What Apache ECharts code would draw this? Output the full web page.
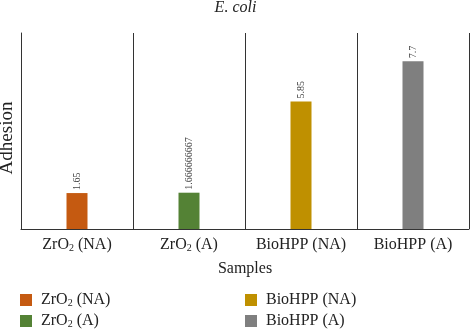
<!DOCTYPE html>
<html>
<head>
<meta charset="utf-8">
<script src="https://cdn.jsdelivr.net/npm/echarts@6/dist/echarts.min.js"></script>
<style>
  html, body { margin: 0; padding: 0; background: #fff; }
  #main { width: 471px; height: 333px; }
</style>
</head>
<body>
<div id="main"></div>
<script>
// samples on the x axis (rich text keeps the subscript 2)
var categories = ['ZrO2 (NA)', 'ZrO2 (A)', 'BioHPP (NA)', 'BioHPP (A)'];
var adhesion = [1.65, 1.666666667, 5.85, 7.7];
var labelText = ['1.65', '1.666666667', '5.85', '7.7'];
var colors = ['#C55A11', '#548235', '#BF9000', '#7F7F7F'];

var serif = '"Liberation Serif", "DejaVu Serif", serif';

function richName(name) {
  if (name.indexOf('ZrO2') === 0) {
    return '{t|ZrO}{s|2}{t|' + name.slice(4) + '}';
  }
  return '{t|' + name + '}';
}

function legendName(name) {
  if (name.indexOf('ZrO2') === 0) {
    return '{f|ZrO}{s|2}{t|' + name.slice(4) + '}';
  }
  return '{f|' + name + '}';
}

var rich = {
  t: { fontFamily: serif, fontSize: 16, color: '#222', height: 20, lineHeight: 20 },
  f: { fontFamily: serif, fontSize: 16, color: '#222', height: 20, lineHeight: 20, padding: [0, 0, 0, 4] },
  s: { fontFamily: serif, fontSize: 10, color: '#222', height: 13, lineHeight: 13, padding: [7, 0, 0, 0] }
};

var series = [];
for (var i = 0; i < categories.length; i++) {
  var d = [];
  for (var j = 0; j < categories.length; j++) {
    d.push(i === j ? adhesion[i] : '-');
  }
  series.push({
    name: categories[i],
    type: 'bar',
    stack: 'all',
    barWidth: 21,
    data: d,
    itemStyle: { color: colors[i] },
    label: {
      show: true,
      position: 'top',
      rotate: 90,
      align: 'left',
      verticalAlign: 'middle',
      distance: 3,
      fontFamily: serif,
      fontSize: 10,
      color: '#444',
      formatter: (function (k) { return function () { return labelText[k]; }; })(i)
    }
  });
}

var myChart = echarts.init(document.getElementById('main'));
var option = {
  animation: false,
  title: {
    text: 'E. coli',
    left: 'center',
    top: 0,
    padding: 0,
    textStyle: { fontFamily: serif, fontStyle: 'italic', fontWeight: 'normal', fontSize: 16, color: '#222' }
  },
  legend: [
    {
      data: [categories[0], categories[1]],
      orient: 'vertical',
      left: 20,
      top: 290,
      padding: 0,
      itemWidth: 12,
      itemHeight: 12,
      itemGap: 1,
      icon: 'rect',
      formatter: legendName,
      textStyle: { rich: rich }
    },
    {
      data: [categories[2], categories[3]],
      orient: 'vertical',
      left: 245,
      top: 290,
      padding: 0,
      itemWidth: 12,
      itemHeight: 12,
      itemGap: 1,
      icon: 'rect',
      formatter: legendName,
      textStyle: { rich: rich }
    }
  ],
  grid: { left: 21, right: 2, top: 33, bottom: 104, outerBoundsMode: 'none', containLabel: false },
  xAxis: {
    type: 'category',
    data: categories,
    name: 'Samples',
    nameLocation: 'middle',
    nameGap: 32,
    nameTextStyle: { fontFamily: serif, fontSize: 16, color: '#222' },
    axisLine: { lineStyle: { color: '#333', width: 1 } },
    axisTick: { show: false },
    axisLabel: { interval: 0, margin: 6, formatter: richName, rich: rich },
    splitLine: { show: true, interval: 0, lineStyle: { color: '#333', width: 1 } }
  },
  yAxis: {
    type: 'value',
    min: 0,
    max: 9,
    name: 'Adhesion',
    nameLocation: 'middle',
    nameGap: 4,
    nameTextStyle: { fontFamily: serif, fontSize: 19, color: '#222', padding: [0, 0, 0, -14] },
    axisLine: { show: true, lineStyle: { color: '#333', width: 1 } },
    axisTick: { show: false },
    axisLabel: { show: false },
    splitLine: { show: false }
  },
  series: series
};
myChart.setOption(option);
</script>
</body>
</html>
